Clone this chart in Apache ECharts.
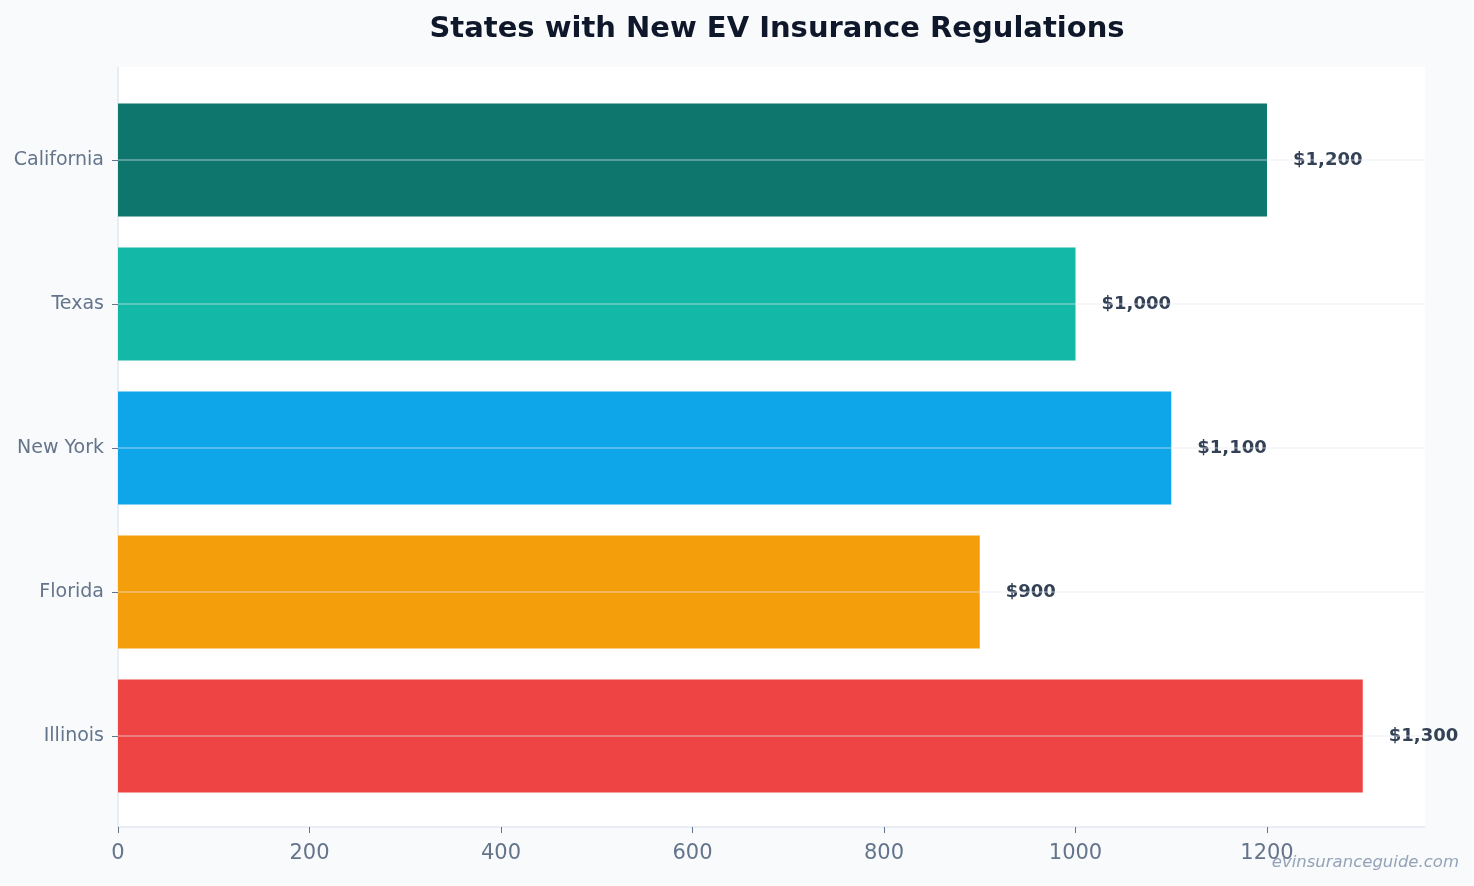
<!DOCTYPE html>
<html>
<head>
<meta charset="utf-8">
<script src="https://cdn.jsdelivr.net/npm/echarts@6/dist/echarts.min.js"></script>
<style>
  html, body { margin: 0; padding: 0; background: #f8fafc; }
  #chart { width: 1474px; height: 886px; }
</style>
</head>
<body>
<div id="chart"></div>
<script>
// Chart data
const states = ['California', 'Texas', 'New York', 'Florida', 'Illinois'];
const premiums = [1200, 1000, 1100, 900, 1300];
const barColors = ['#0f766e', '#14b8a6', '#0ea5e9', '#f59e0b', '#ef4444'];
const xTicks = [0, 200, 400, 600, 800, 1000, 1200];
const xMax = 1365;

const chart = echarts.init(document.getElementById('chart'));

const fmtMoney = (v) => '$' + v.toLocaleString('en-US');

chart.setOption({
  backgroundColor: '#f8fafc',
  textStyle: { fontFamily: 'DejaVu Sans' },
  title: {
    text: 'States with New EV Insurance Regulations',
    left: 772,
    textAlign: 'center',
    top: 10,
    textStyle: { fontSize: 29, fontWeight: 'bold', color: '#0f172a', fontFamily: 'DejaVu Sans' },
  },
  // white plot panel + left border (decoration only)
  graphic: [
    {
      type: 'rect',
      z: -10,
      silent: true,
      shape: { x: 118, y: 67, width: 1307, height: 760 },
      style: { fill: '#ffffff' },
    },
    {
      type: 'line',
      z: -9,
      silent: true,
      shape: { x1: 118, y1: 67, x2: 118, y2: 827 },
      style: { stroke: '#e2e8f0', lineWidth: 1.5 },
    },
    {
      type: 'text',
      right: 15,
      bottom: 15,
      style: {
        text: 'evinsuranceguide.com',
        fill: '#94a3b8',
        font: 'italic 16.5px "DejaVu Sans"',
      },
    },
  ],
  grid: {
    left: 118,
    right: 49,
    top: 88,
    bottom: 78,
    containLabel: false,
  },
  xAxis: {
    type: 'value',
    min: 0,
    max: xMax,
    offset: 19,
    axisLine: { show: true, lineStyle: { color: '#e2e8f0', width: 1.5 } },
    axisTick: { show: true, length: 6, customValues: xTicks, lineStyle: { color: '#64748b' } },
    axisLabel: {
      customValues: xTicks,
      formatter: (v) => String(v),
      color: '#64748b',
      fontSize: 21,
      margin: 16,
    },
    splitLine: { show: false },
  },
  yAxis: {
    type: 'category',
    data: states,
    inverse: true,
    z: 5,
    axisLine: { show: false },
    axisTick: { show: true, length: 6, alignWithLabel: true, lineStyle: { color: '#64748b' } },
    axisLabel: { color: '#64748b', fontSize: 19, margin: 14, padding: [6, 0, 0, 0] },
    splitLine: {
      show: true,
      alignWithLabel: true,
      lineStyle: { color: 'rgba(226, 232, 240, 0.35)', width: 2 },
    },
  },
  series: [
    {
      type: 'bar',
      data: premiums.map((v, i) => ({ value: v, itemStyle: { color: barColors[i] } })),
      barCategoryGap: '21.5%',
      label: {
        show: true,
        position: 'right',
        distance: 26,
        padding: [2, 0, 0, 0],
        formatter: (p) => fmtMoney(p.value),
        color: '#334155',
        fontWeight: 'bold',
        fontSize: 18,
      },
    },
  ],
});
</script>
</body>
</html>
